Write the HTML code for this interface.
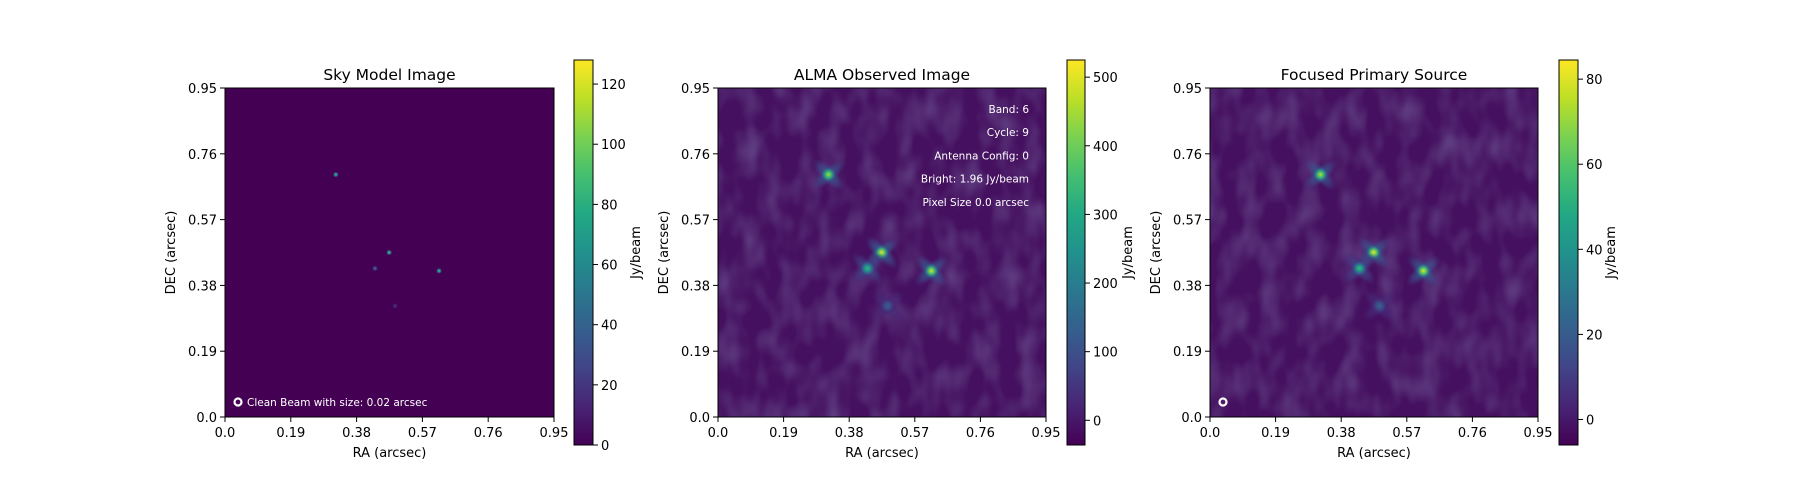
<!DOCTYPE html>
<html><head><meta charset="utf-8">
<style>
html,body{margin:0;padding:0;background:#fff;}
svg{display:block;font-family:"DejaVu Sans","Liberation Sans",sans-serif;}
</style></head>
<body>
<svg id="fig" width="1800" height="500" viewBox="0 0 1800 500" xmlns="http://www.w3.org/2000/svg">
<defs>
<linearGradient id="viridis" x1="0" y1="1" x2="0" y2="0">
<stop offset="0" stop-color="#440154"/><stop offset="0.1" stop-color="#482475"/>
<stop offset="0.2" stop-color="#414487"/><stop offset="0.3" stop-color="#355f8d"/>
<stop offset="0.4" stop-color="#2a788e"/><stop offset="0.5" stop-color="#21918c"/>
<stop offset="0.6" stop-color="#22a884"/><stop offset="0.7" stop-color="#44bf70"/>
<stop offset="0.8" stop-color="#7ad151"/><stop offset="0.9" stop-color="#bddf26"/>
<stop offset="1" stop-color="#fde725"/>
</linearGradient>
<filter id="noise" x="0" y="0" width="100%" height="100%">
<feTurbulence type="fractalNoise" baseFrequency="0.05 0.03" numOctaves="2" seed="7"/>
<feColorMatrix type="matrix" values="0 0 0 0 0.25  0 0 0 0 0.24  0 0 0 0 0.48  0 0 0 1.6 -0.6"/>
</filter>
</defs>
</svg>
<script>
// ---- data ----
const tickVals = [0.0, 0.19, 0.38, 0.57, 0.76, 0.95];
const tickLabels = ["0.0", "0.19", "0.38", "0.57", "0.76", "0.95"];
const srcRA = [0.32, 0.474, 0.433, 0.618, 0.491];
const srcDEC = [0.70, 0.475, 0.429, 0.422, 0.321];
const skyValues = [85, 92, 45, 90, 20];
const almaValues = [450, 510, 330, 490, 130];
const focusValues = [75, 83, 55, 81, 22];
const cb1Ticks = [0, 20, 40, 60, 80, 100, 120];
const cb2Ticks = [0, 100, 200, 300, 400, 500];
const cb3Ticks = [0, 20, 40, 60, 80];
const annotations = ["Band: 6", "Cycle: 9", "Antenna Config: 0", "Bright: 1.96 Jy/beam", "Pixel Size 0.0 arcsec"];

const NS = "http://www.w3.org/2000/svg";
const fig = document.getElementById('fig');
function el(tag, attrs, parent, text){
  const e = document.createElementNS(NS, tag);
  for (const k in attrs) e.setAttribute(k, attrs[k]);
  if (text !== undefined) e.textContent = text;
  (parent || fig).appendChild(e);
  return e;
}
const VIR = ["#440154","#482475","#414487","#355f8d","#2a788e","#21918c","#22a884","#44bf70","#7ad151","#bddf26","#fde725"];
function hex(c){return [parseInt(c.slice(1,3),16),parseInt(c.slice(3,5),16),parseInt(c.slice(5,7),16)];}
function viridis(t){
  t=Math.max(0,Math.min(1,t)); const p=t*10, i=Math.min(9,Math.floor(p)), f=p-i;
  const a=hex(VIR[i]), b=hex(VIR[i+1]);
  return "rgb("+a.map((v,k)=>Math.round(v+(b[k]-v)*f)).join(",")+")";
}

const panels = [
  {title:"Sky Model Image", x0:225, x1:554, cb:[574,593], vmin:0, vmax:128, ticks:cb1Ticks, vals:skyValues, kind:"sky", cbLabelX:640, beam:true, beamText:true},
  {title:"ALMA Observed Image", x0:718, x1:1046, cb:[1067,1085], vmin:-36, vmax:525, ticks:cb2Ticks, vals:almaValues, kind:"obs", cbLabelX:1132, ann:true},
  {title:"Focused Primary Source", x0:1210, x1:1538, cb:[1559,1578], vmin:-6, vmax:84.5, ticks:cb3Ticks, vals:focusValues, kind:"obs", cbLabelX:1615, beam:true}
];
const Y0 = 88, Y1 = 417, CBT = 60, CBB = 445;

panels.forEach((p, pi) => {
  const g = el('g', {});
  
  
  const W = p.x1 - p.x0, H = Y1 - Y0;
  const xs = v => p.x0 + v / 0.95 * W;
  const ys = v => Y1 - v / 0.95 * H;
  const norm = v => (v - p.vmin) / (p.vmax - p.vmin);
  const clipId = 'clip' + pi;
  const cp = el('clipPath', {id: clipId}, g);
  el('rect', {x:p.x0, y:Y0, width:W, height:H}, cp);
  const img = el('g', {'clip-path':'url(#'+clipId+')'}, g);
  
  
  el('rect', {x:p.x0, y:Y0, width:W, height:H, fill: p.kind==='obs' ? '#45105f' : viridis(norm(0)) }, img);
  if (p.kind === 'obs') {
    el('rect', {x:p.x0, y:Y0, width:W, height:H, filter:'url(#noise)', opacity:0.45}, img);
  }
  srcRA.forEach((ra, i) => {
    const cx = xs(ra), cy = ys(srcDEC[i]), v = p.vals[i];
    const gid = 'g'+pi+'_'+i;
    const rg = el('radialGradient', {id:gid}, img);
    el('stop', {offset:'0', 'stop-color':viridis(norm(v))}, rg);
    el('stop', {offset:'0.35', 'stop-color':viridis(norm(v*0.75))}, rg);
    el('stop', {offset:'0.7', 'stop-color':viridis(norm(v*0.35)), 'stop-opacity':'0.8'}, rg);
    el('stop', {offset:'1', 'stop-color':viridis(norm(v*0.1)), 'stop-opacity':'0'}, rg);
    if (p.kind === 'obs') {
      const hid = 'h'+pi+'_'+i;
      const hg = el('radialGradient', {id:hid}, img);
      el('stop', {offset:'0', 'stop-color':viridis(norm(v*0.35)), 'stop-opacity':'0.95'}, hg);
      el('stop', {offset:'0.6', 'stop-color':viridis(norm(v*0.18)), 'stop-opacity':'0.6'}, hg);
      el('stop', {offset:'1', 'stop-color':viridis(norm(v*0.1)), 'stop-opacity':'0'}, hg);
      [-40, 45].forEach(ang => {
        const halo = el('ellipse', {cx:cx, cy:cy, rx:22, ry:8, fill:'url(#'+hid+')', transform:'rotate('+ang+' '+cx+' '+cy+')'}, img);
        
        
      });
    }
    const r = p.kind === 'obs' ? 8 : 3;
    const c = el('circle', {cx:cx, cy:cy, r:r, fill:'url(#'+gid+')'}, img);
    
    
  });
  el('rect', {x:p.x0, y:Y0, width:W, height:H, fill:'none', stroke:'#000', 'stroke-width':1}, g);
  tickVals.forEach((t, i) => {
    const X = xs(t), Yp = ys(t);
    el('line', {x1:X, x2:X, y1:Y1, y2:Y1+5, stroke:'#000'}, g);
    const xl = el('text', {x:X, y:Y1+20, 'font-size':13, 'text-anchor':'middle'}, g, tickLabels[i]);
    
    
    el('line', {x1:p.x0-5, x2:p.x0, y1:Yp, y2:Yp, stroke:'#000'}, g);
    const yl = el('text', {x:p.x0-8, y:Yp+5, 'font-size':13, 'text-anchor':'end'}, g, tickLabels[i]);
    
    
  });
  const t = el('text', {x:(p.x0+p.x1)/2, y:80, 'font-size':15.5, 'text-anchor':'middle'}, g, p.title);
  
  
  const xa = el('text', {x:(p.x0+p.x1)/2, y:457, 'font-size':13, 'text-anchor':'middle'}, g, 'RA (arcsec)');
  
  
  const yx = p.x0 - 50;
  const ya = el('text', {x:yx, y:(Y0+Y1)/2, 'font-size':13, 'text-anchor':'middle', transform:'rotate(-90 '+yx+' '+((Y0+Y1)/2)+')'}, g, 'DEC (arcsec)');
  
  
  if (p.beam) {
    const bx = p.x0 + 13, by = 402;
    const b = el('circle', {cx:bx, cy:by, r:3.5, fill:'none', stroke:'#fff', 'stroke-width':2.2}, g);
    
    
    if (p.beamText) {
      const bt = el('text', {x:bx+9, y:by+4, 'font-size':10.5, fill:'#fff'}, g, 'Clean Beam with size: 0.02 arcsec');
      
      
    }
  }
  if (p.ann) {
    annotations.forEach((a, i) => {
      const at = el('text', {x:1029, y:113 + i*23.2, 'font-size':10.5, fill:'#fff', 'text-anchor':'end'}, g, a);
      
      
    });
  }
  const cbx = p.cb[0], cbw = p.cb[1] - p.cb[0];
  const cbr = el('rect', {x:cbx, y:CBT, width:cbw, height:CBB-CBT, fill:'url(#viridis)', stroke:'#000', 'stroke-width':1}, g);
  
  
  const cs = v => CBB - (v - p.vmin) / (p.vmax - p.vmin) * (CBB - CBT);
  p.ticks.forEach(tv => {
    const Yc = cs(tv);
    el('line', {x1:cbx+cbw, x2:cbx+cbw+5, y1:Yc, y2:Yc, stroke:'#000'}, g);
    const cl = el('text', {x:cbx+cbw+8, y:Yc+5, 'font-size':13}, g, String(tv));
    
    
  });
  const lx = p.cbLabelX;
  const cbl = el('text', {x:lx, y:(CBT+CBB)/2, 'font-size':13, 'text-anchor':'middle', transform:'rotate(-90 '+lx+' '+((CBT+CBB)/2)+')'}, g, 'Jy/beam');
  
  
});
</script>
</body></html>
